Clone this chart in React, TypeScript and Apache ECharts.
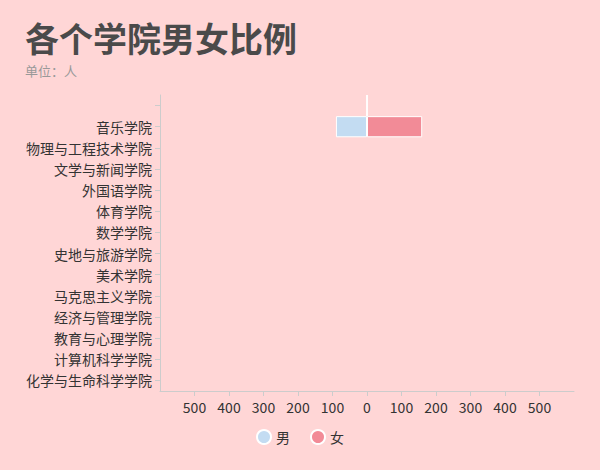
import React, { useEffect, useRef } from "react";
import * as echarts from "echarts";

const categories = [
  "化学与生命科学学院",
  "计算机科学学院",
  "教育与心理学院",
  "经济与管理学院",
  "马克思主义学院",
  "美术学院",
  "史地与旅游学院",
  "数学学院",
  "体育学院",
  "外国语学院",
  "文学与新闻学院",
  "物理与工程技术学院",
  "音乐学院",
  "",
];
const maleValues: (number | null)[] = [null, null, null, null, null, null, null, null, null, null, null, null, -90, 0];
const femaleValues: (number | null)[] = [null, null, null, null, null, null, null, null, null, null, null, null, 160, 0];
const seriesNames = ["男", "女"];

const FONT = "'Noto Sans CJK SC', 'Noto Sans', sans-serif";

export default function App() {
  const ref = useRef<HTMLDivElement>(null);
  useEffect(() => {
    const chart = echarts.init(ref.current!, null, { renderer: "svg" });
    chart.setOption({
      animation: false,
      backgroundColor: "#ffd6d6",
      textStyle: { fontFamily: FONT },
      title: {
        text: "各个学院男女比例",
        subtext: "单位：人",
        left: 20,
        top: 12,
        itemGap: 7,
        textStyle: { fontSize: 34, fontWeight: "bold", color: "#4a4a4a", fontFamily: FONT, lineHeight: 40 },
        subtextStyle: { fontSize: 13, color: "#999", fontFamily: FONT },
      },
      legend: {
        bottom: 20,
        left: "center",
        icon: "circle",
        itemWidth: 14,
        itemHeight: 14,
        itemGap: 20,
        textStyle: { fontSize: 14, color: "#333", fontFamily: FONT },
        data: seriesNames,
      },
      grid: { left: 160, right: 26, top: 95, bottom: 79 },
      xAxis: {
        type: "value",
        min: -600,
        max: 600,
        interval: 100,
        axisLine: { show: true, lineStyle: { color: "#ccc" } },
        axisTick: { show: true, length: 5, lineStyle: { color: "#ccc" } },
        splitLine: { show: false },
        axisLabel: {
          showMinLabel: false,
          showMaxLabel: false,
          fontSize: 14,
          color: "#333",
          margin: 9,
          formatter: (v: number) => String(Math.abs(v)),
        },
      },
      yAxis: {
        type: "category",
        data: categories,
        axisLine: { show: true, onZero: false, lineStyle: { color: "#ccc" } },
        axisTick: { show: true, alignWithLabel: true, length: 5, lineStyle: { color: "#ccc" } },
        axisLabel: { fontSize: 14, color: "#333", margin: 8 },
      },
      series: [
        {
          name: seriesNames[0],
          type: "bar",
          stack: "total",
          barWidth: "100%",
          data: maleValues,
          itemStyle: { color: "#c3dcf2", borderColor: "#fff", borderWidth: 1 },
        },
        {
          name: seriesNames[1],
          type: "bar",
          stack: "total",
          barWidth: "100%",
          data: femaleValues,
          itemStyle: { color: "#f28b97", borderColor: "#fff", borderWidth: 1 },
        },
      ],
    });
    return () => chart.dispose();
  }, []);
  return <div ref={ref} style={{ width: 600, height: 470, position: "fixed", left: 0, top: 0 }} />;
}
